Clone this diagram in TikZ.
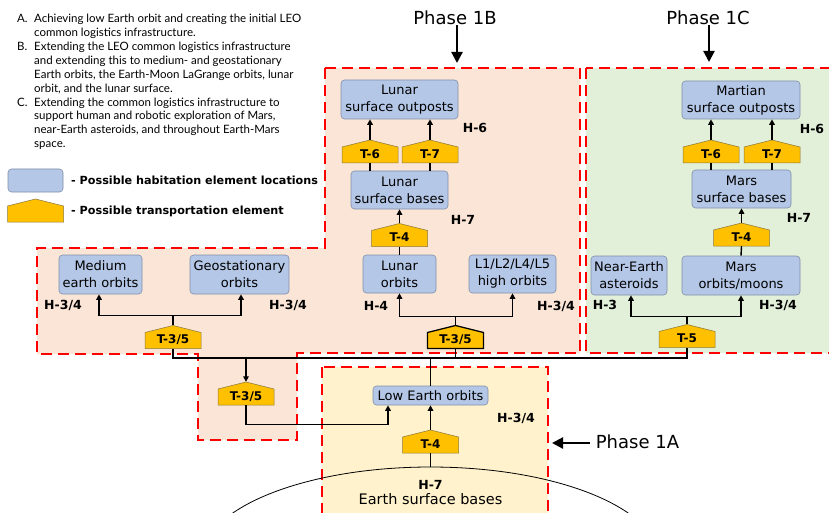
\documentclass[tikz,border=0pt]{standalone}
\usepackage{fontspec}
\setmainfont{DejaVu Sans}
\newfontfamily\listfont{Lato}
\usetikzlibrary{arrows.meta,calc,shapes.geometric}

\definecolor{salmonFill}{HTML}{FBE5D6}
\definecolor{greenFill}{HTML}{E2F0D9}
\definecolor{yellowFill}{HTML}{FFF2CC}
\definecolor{habBlue}{HTML}{B4C7E7}
\definecolor{habEdge}{HTML}{7F8FA9}
\definecolor{goldFill}{HTML}{FFC000}
\definecolor{goldEdge}{HTML}{8C7A3A}
\definecolor{dashRed}{HTML}{FF0000}

\tikzset{
 region/.style={draw=dashRed, line width=2.2pt, dash pattern=on 11pt off 6pt},
 hab/.style={draw=habEdge, line width=0.6pt, fill=habBlue, rounded corners=3.5pt, align=center, inner sep=0pt, font=\fontsize{13}{17}\selectfont},
 tlabel/.style={minimum width=56pt, minimum height=23pt, inner sep=0pt, text height=13.8pt, text depth=0pt, font=\bfseries\fontsize{12}{14}\selectfont},
 tshape/.style={fill=goldFill, draw=goldEdge, line width=0.5pt},
 hlabel/.style={font=\bfseries\fontsize{12.5}{15}\selectfont, inner sep=0pt},
 conn/.style={line width=1.4pt, black},
 arr/.style={conn, -{Triangle[length=5.5pt,width=5.5pt]}},
 phasearr/.style={line width=2.2pt, -{Triangle[length=11pt,width=11pt]}},
 phasetxt/.style={font=\fontsize{18}{20}\selectfont, inner sep=0pt},
}

% pentagon transport element: #2 name, (#3,#4) centre, #5 text
\newcommand\Tnode[5][]{%
 \draw[tshape,#1,shift={(#3,#4)}] (-28,11.5) -- (-28,-4.5) -- (0,-11.5) -- (28,-4.5) -- (28,11.5) -- cycle;
 \node[tlabel] (#2) at (#3,#4) {#5};}

\begin{document}
\begin{tikzpicture}[x=1pt,y=-1pt]
\useasboundingbox (0,0) rectangle (829,513);
\clip (0,0) rectangle (829,513);
\fill[white] (0,0) rectangle (829,513);

% regions
\path[region, fill=salmonFill] (325,68) -- (580,68) -- (580,353) -- (297,353) -- (297,440) -- (198,440) -- (198,354) -- (37,354) -- (37,248) -- (325,248) -- cycle;
\path[region, fill=greenFill] (586,68) rectangle (840,353);
\path[region, fill=yellowFill] (322,367) rectangle (548,530);

% earth
\node[ellipse, draw, line width=0.8pt, minimum width=458pt, minimum height=186pt, inner sep=0pt] (earth) at (430.5,560) {};
\node[hlabel] (hEarth) at (430.5,485) {H-7};
\node[font=\fontsize{14.5}{16}\selectfont, inner sep=0pt] (earthTxt) at (430.5,499) {Earth surface bases};

% notes
\node[anchor=north west, inner sep=0pt, align=left, font=\listfont\fontsize{11.5}{13.9}\selectfont] (notes) at (17,14) {%
\makebox[17pt][l]{A.}Achieving low Earth orbit and creating the initial LEO\\
\hspace*{17pt}common logistics infrastructure.\\
\makebox[17pt][l]{B.}Extending the LEO common logistics infrastructure\\
\hspace*{17pt}and extending this to medium- and geostationary\\
\hspace*{17pt}Earth orbits, the Earth-Moon LaGrange orbits, lunar\\
\hspace*{17pt}orbit, and the lunar surface.\\
\makebox[17pt][l]{C.}Extending the common logistics infrastructure to\\
\hspace*{17pt}support human and robotic exploration of Mars,\\
\hspace*{17pt}near-Earth asteroids, and throughout Earth-Mars\\
\hspace*{17pt}space.};

% legend
\node[hab, minimum width=55pt, minimum height=23pt] (legHab) at (35.5,180.5) {};
\node[anchor=west, inner sep=0pt, font=\bfseries\fontsize{11.2}{13}\selectfont] (legHabTxt) at (71,180.5) {- Possible habitation element locations};
\Tnode{legT}{35.5}{210.5}{}
\node[anchor=west, inner sep=0pt, font=\bfseries\fontsize{11.2}{13}\selectfont] (legTTxt) at (71,211) {- Possible transportation element};

% phase titles
\node[phasetxt] (p1b) at (455,18) {Phase 1B};
\coordinate (p1bTip) at (457,63);
\draw[phasearr] (p1bTip |- p1b.south) -- (p1bTip);
\node[phasetxt] (p1c) at (708,18) {Phase 1C};
\coordinate (p1cTip) at (709,62);
\draw[phasearr] (p1cTip |- p1c.south) -- (p1cTip);
\node[phasetxt] (p1a) at (637.5,442) {Phase 1A};
\coordinate (p1aTip) at (552,443);
\draw[phasearr] ([xshift=-6pt]p1a.west |- p1aTip) -- (p1aTip);

% habitation boxes
\node[hab, minimum width=117pt, minimum height=39pt] (lso) at (399.5,99.5) {Lunar\\surface outposts};
\node[hab, minimum width=97pt, minimum height=38pt] (lsb) at (399.5,190) {Lunar\\surface bases};
\node[hab, minimum width=73pt, minimum height=38pt] (lo) at (399.5,274) {Lunar\\orbits};
\node[hab, minimum width=87pt, minimum height=38pt] (l15) at (512.5,274) {L1/L2/L4/L5\\high orbits};
\node[hab, minimum width=83pt, minimum height=39pt] (meo) at (100.5,274.5) {Medium\\earth orbits};
\node[hab, minimum width=99pt, minimum height=39pt] (geo) at (239.5,274.5) {Geostationary\\orbits};
\node[hab, minimum width=115pt, minimum height=19pt] (leo) at (430.5,395.5) {Low Earth orbits};
\node[hab, minimum width=118pt, minimum height=38pt] (mso) at (741,100) {Martian\\surface outposts};
\node[hab, minimum width=99pt, minimum height=38pt] (msb) at (741.5,189) {Mars\\surface bases};
\node[hab, minimum width=118pt, minimum height=39pt] (mom) at (741,275.5) {Mars\\orbits/moons};
\node[hab, minimum width=76pt, minimum height=39pt] (nea) at (629,275.5) {Near-Earth\\asteroids};

% habitation labels
\node[hlabel] (hLso) at (475,128) {H-6};
\node[hlabel] (hLsb) at (463,220) {H-7};
\node[hlabel] (hLo) at (376,306) {H-4};
\node[hlabel] (hL15) at (556,306) {H-3/4};
\node[hlabel] (hMeo) at (63,305) {H-3/4};
\node[hlabel] (hGeo) at (288,305) {H-3/4};
\node[hlabel] (hLeo) at (516,418) {H-3/4};
\node[hlabel] (hMso) at (812,129) {H-6};
\node[hlabel] (hMsb) at (799,218) {H-7};
\node[hlabel] (hNea) at (605,305) {H-3};
\node[hlabel] (hMom) at (778,305) {H-3/4};

% transport elements
\Tnode{lt6}{370}{151.5}{T-6}
\Tnode{lt7}{430}{151.5}{T-7}
\Tnode{lt4}{399.5}{235}{T-4}
\Tnode[draw=black, line width=1.3pt]{tR}{455.5}{337}{T-3/5}
\Tnode{tL}{173}{337}{T-3/5}
\Tnode{tD}{246}{393.5}{T-3/5}
\Tnode{tE}{430.5}{441.5}{T-4}
\Tnode{mt6}{711}{151.5}{T-6}
\Tnode{mt7}{772}{151.5}{T-7}
\Tnode{mt4}{741.5}{234.5}{T-4}
\Tnode{t5}{687}{336}{T-5}

% lunar chain
\draw[arr] (lt6.north) -- (lt6.north |- lso.south);
\draw[arr] (lt7.north) -- (lt7.north |- lso.south);
\draw[conn] (lt6.south) -- (lt6.south |- lsb.north);
\draw[conn] (lt7.south) -- (lt7.south |- lsb.north);
\draw[arr] (lt4.north) -- (lsb.south);
\draw[conn] (lt4.south) -- (lo.north);
\draw[arr] (tR.north) -- ++(0,-9) -| (lo.south);
\draw[arr] (tR.north) -- ++(0,-9) -| (l15.south);

% mars chain
\draw[arr] (mt6.north) -- (mt6.north |- mso.south);
\draw[arr] (mt7.north) -- (mt7.north |- mso.south);
\draw[conn] (mt6.south) -- (mt6.south |- msb.north);
\draw[conn] (mt7.south) -- (mt7.south |- msb.north);
\draw[arr] (mt4.north) -- (msb.south);
\draw[conn] (mt4.south) -- (mom.north);
\draw[arr] (t5.north) -- ++(0,-8) -| ([xshift=2pt]nea.south);
\draw[arr] (t5.north) -- ++(0,-8) -| (mom.south);

% earth orbit group
\draw[arr] (tL.north) -- ++(0,-10) -| ([xshift=-1.5pt]meo.south);
\draw[arr] (tL.north) -- ++(0,-10) -| ([xshift=1.5pt]geo.south);

% bus
\coordinate (bus) at (0,358);
\draw[conn] (tL.south) -- (tL.south |- bus) -- (t5.south |- bus) -- (t5.south);
\draw[conn] (tR.south) -- (tR.south |- bus);
\draw[conn] (leo.north |- bus) -- (leo.north);
\draw[arr] (tD.north |- bus) -- (tD.north);
\draw[arr] (tD.south) -- ++(0,19) -| ([xshift=-42.5pt]leo.south);
\draw[arr] (tE.north) -- (leo.south);
\draw[conn] (tE.south) -- (earth.north);
\end{tikzpicture}
\end{document}
